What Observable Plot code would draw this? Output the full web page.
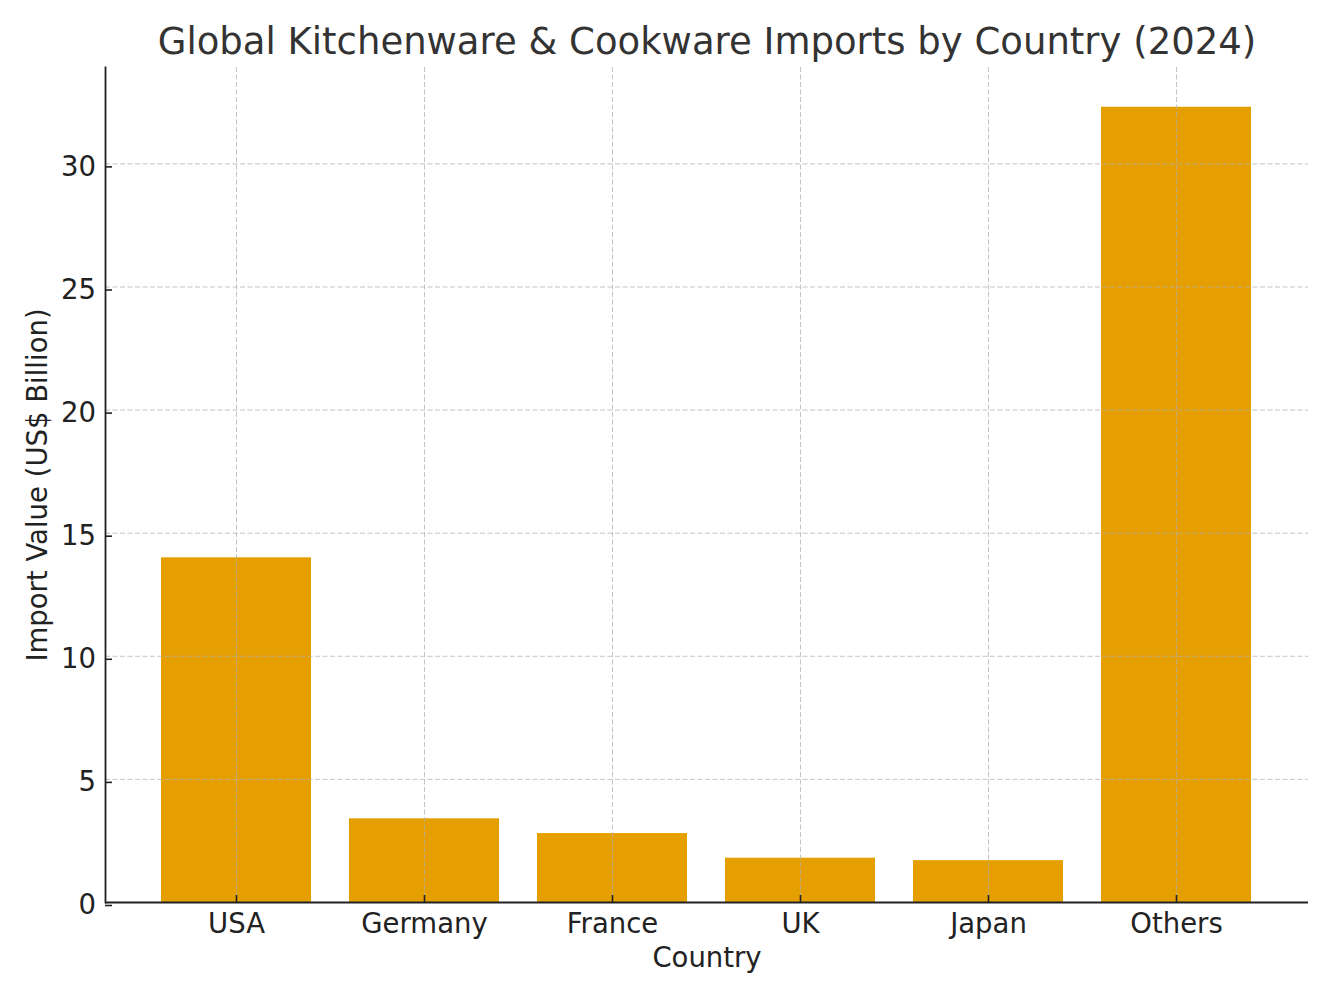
<!DOCTYPE html>
<html><head><meta charset="utf-8">
<script src="https://cdn.jsdelivr.net/npm/d3@7"></script>
<script src="https://cdn.jsdelivr.net/npm/@observablehq/plot@0.6"></script>
<style>body{margin:0;background:#fff;} svg{font-family:"DejaVu Sans";}</style>
</head><body><div id="chart"></div>
<script>
const countries = ["USA", "Germany", "France", "UK", "Japan", "Others"];
const values = [14.0, 3.4, 2.8, 1.8, 1.7, 32.3];
const yTicks = [0, 5, 10, 15, 20, 25, 30];
const titleText = "Global Kitchenware & Cookware Imports by Country (2024)";
const xLabel = "Country";
const yLabel = "Import Value (US$ Billion)";

const data = countries.map((c, i) => ({country: c, value: values[i]}));
const gridStyle = {stroke: "#b0b0b0", strokeOpacity: 0.75, strokeDasharray: "5,2.5", strokeWidth: 1};
const axisStyle = {color: "#222", fill: "#222", stroke: "#222", strokeWidth: 1.6, fontSize: 27.5, label: null};

const chart = Plot.plot({
  width: 1333, height: 1000,
  marginLeft: 105, marginRight: 25, marginTop: 67, marginBottom: 98,
  style: {fontFamily: "DejaVu Sans", fontSize: "27.5px", color: "#222", background: "#fff"},
  x: {domain: countries, paddingInner: 0.2, paddingOuter: 0.2925, label: null},
  y: {domain: [0, d3.max(values) * 1.05], label: null},
  marks: [
    Plot.barY(data, {x: "country", y: "value", fill: "#E69F00"}),
    Plot.gridX(countries, gridStyle),
    Plot.gridY(yTicks, gridStyle),
    Plot.axisX(countries, {...axisStyle, tickSize: -7, tickPadding: 17.5}),
    Plot.axisY(yTicks, {...axisStyle, tickSize: -7, tickPadding: 16.5, dy: 3}),
    Plot.ruleY([0], {stroke: "#222", strokeWidth: 1.8}),
    Plot.frame({anchor: "left", stroke: "#222", strokeWidth: 1.8}),
    Plot.text([titleText], {text: d => d, frameAnchor: "top", dy: -25.5, fontSize: 37, fill: "#333", lineAnchor: "middle"}),
    Plot.text([xLabel], {text: d => d, frameAnchor: "bottom", dy: 56, fontSize: 27.5, fill: "#222", lineAnchor: "middle"}),
    Plot.text([yLabel], {text: d => d, frameAnchor: "left", dx: -67, rotate: -90, fontSize: 27.5, fill: "#222", lineAnchor: "middle", textAnchor: "middle"})
  ]
});
document.getElementById("chart").append(chart);
</script>
</body></html>
